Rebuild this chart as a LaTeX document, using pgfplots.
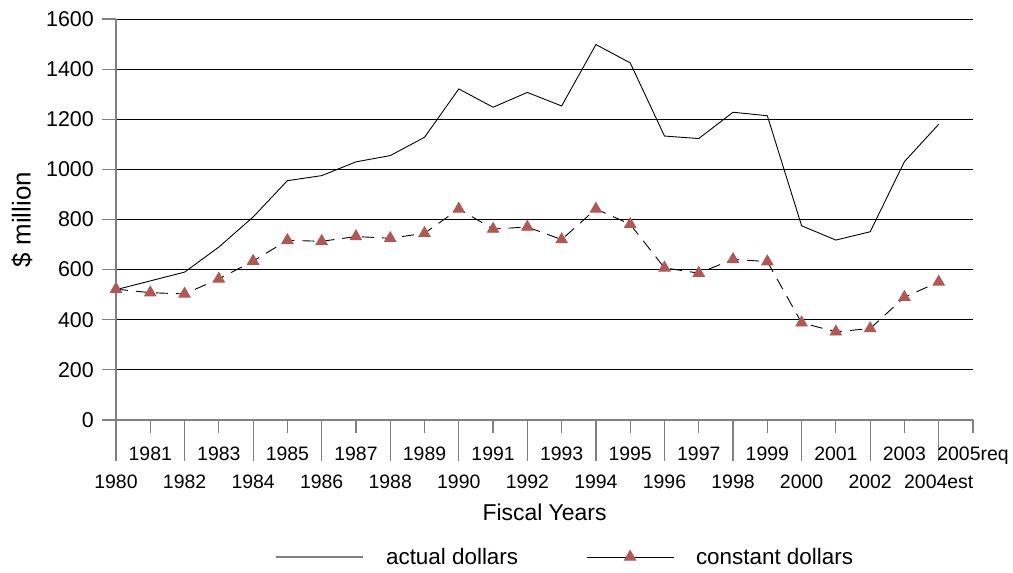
\documentclass[border=0pt]{standalone}
\usepackage{pgfplots}
\pgfplotsset{compat=1.18}
\usepackage{fontspec}
\setmainfont{Liberation Sans}
\definecolor{mk}{RGB}{176,88,86}
\definecolor{axgray}{RGB}{128,128,128}

\begin{document}
\begin{tikzpicture}
\begin{axis}[
    scale only axis,
    width=857bp, height=401bp,
    xmin=0, xmax=25,
    ymin=0, ymax=1600,
    axis x line=bottom, axis y line=left,
    axis line style={-, axgray, line width=1.2pt},
    tick align=outside,
    major tick length=41bp,
    tick style={axgray, line width=1.2pt},
    y tick style={/pgfplots/major tick length=14bp},
    ytick={0,200,...,1600},
    ymajorgrids=true,
    grid style={black, line width=0.8pt},
    xtick={0,2,...,24},
    xticklabels={1980,1982,1984,1986,1988,1990,1992,1994,1996,1998,2000,2002,2004est},
    extra x ticks={1,3,...,25},
    extra x tick labels={1981,1983,1985,1987,1989,1991,1993,1995,1997,1999,2001,2003,2005req},
    extra x tick style={major tick length=13bp, grid=none},
    /pgf/number format/assume math mode=true,
    /pgf/number format/1000 sep={},
    xticklabel style={font=\fontsize{19.5}{22}\selectfont, inner sep=2bp, yshift=-12bp},
    yticklabel style={font=\fontsize{21.5}{24}\selectfont, inner sep=2bp, xshift=21bp},
    xlabel={Fiscal Years},
    ylabel={\$ million},
    xlabel style={font=\fontsize{23}{26}\selectfont, at={(axis description cs:0.5,-0.2294)}, anchor=center},
    ylabel style={font=\fontsize{26}{29}\selectfont, at={(axis description cs:-0.1097,0.5)}, anchor=center},
    clip=false,
    legend style={at={(0.524,-0.3416)}, anchor=center, draw=none, fill=none,
        legend columns=2, font=\fontsize{22.5}{25}\selectfont,
        /tikz/every odd column/.append style={column sep=20bp},
        /tikz/every even column/.append style={column sep=66bp}},
    legend image code/.code={
        \draw[mark repeat=2, mark phase=2, #1, solid]
            plot coordinates {(0bp,0bp) (43.5bp,0bp) (87bp,0bp)};
    },
]
\coordinate (sw) at (rel axis cs:0,0);
\coordinate (ne) at (rel axis cs:1,1);

\addplot[black, line width=0.9pt, mark=none,
    legend image code/.code={\draw[axgray, line width=2pt] (0bp,0bp) -- (87bp,0bp);}]
    coordinates {
    (0,520)(1,555)(2,590)(3,690)(4,810)(5,955)(6,975)(7,1030)(8,1055)(9,1128)
    (10,1321)(11,1248)(12,1307)(13,1253)(14,1498)(15,1425)(16,1133)(17,1123)
    (18,1228)(19,1214)(20,775)(21,718)(22,751)(23,1031)(24,1180)
    };
\addlegendentry{actual dollars}

\addplot[black, line width=0.9pt, dash pattern=on 12bp off 8bp,
    mark=triangle*, mark size=6.5bp,
    mark options={solid, fill=mk, draw=mk}]
    coordinates {
    (0,522)(1,508)(2,503)(3,563)(4,634)(5,717)(6,713)(7,732)(8,725)(9,745)
    (10,842)(11,762)(12,770)(13,720)(14,842)(15,781)(16,607)(17,586)
    (18,641)(19,632)(20,388)(21,352)(22,365)(23,490)(24,551)
    };
\addlegendentry{constant dollars}
\end{axis}
\pgfresetboundingbox
\path[use as bounding box] ([shift={(-116bp,-153bp)}]sw) rectangle ([shift={(40bp,19bp)}]ne);
\end{tikzpicture}
\end{document}
